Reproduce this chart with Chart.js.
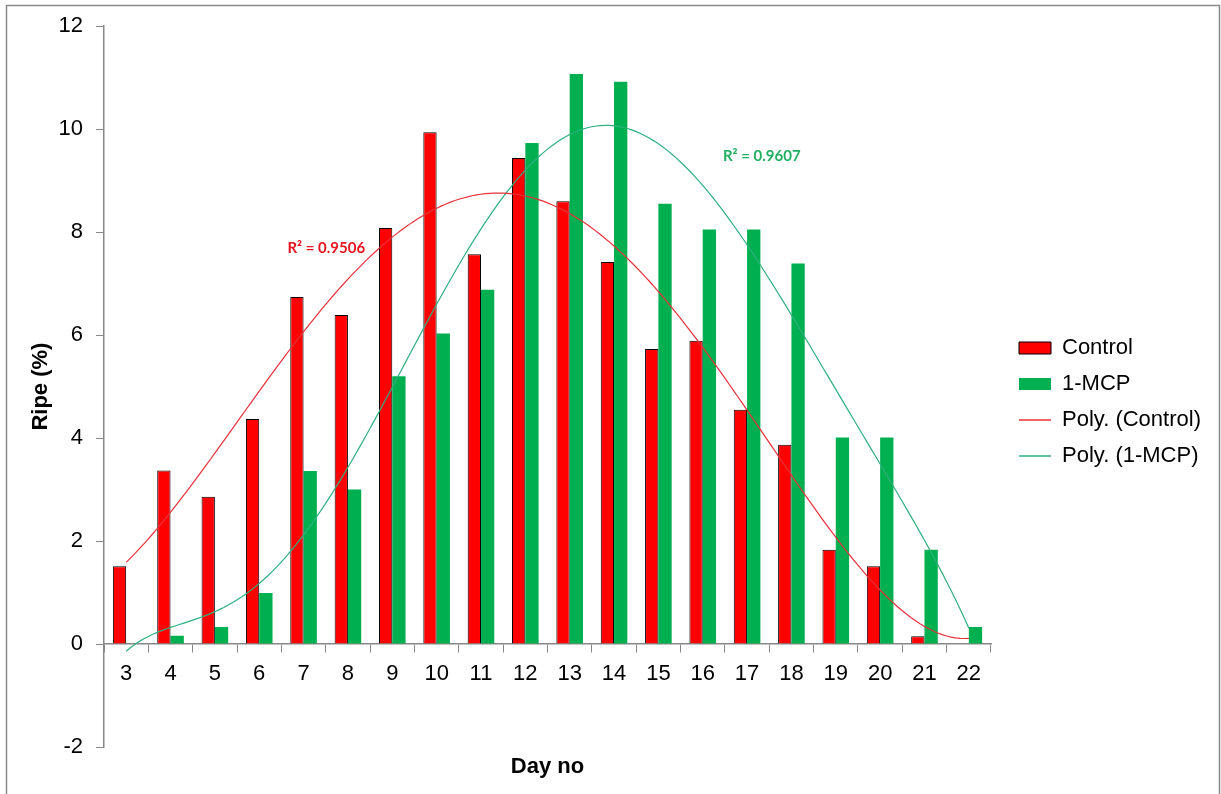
<!DOCTYPE html>
<html>
<head>
<meta charset="utf-8">
<script src="https://cdn.jsdelivr.net/npm/chart.js@4.4.1/dist/chart.umd.min.js"></script>
<style>
  html, body { margin: 0; padding: 0; background: #fff; }
  #wrap { position: relative; width: 1221px; height: 794px; }
</style>
</head>
<body>
<div id="wrap"><canvas id="chart" width="1221" height="794"></canvas></div>
<script>
// data
const days = ['3','4','5','6','7','8','9','10','11','12','13','14','15','16','17','18','19','20','21','22'];
const control = [1.51, 3.37, 2.86, 4.37, 6.74, 6.39, 8.08, 9.94, 7.57, 9.44, 8.60, 7.42, 5.73, 5.89, 4.55, 3.87, 1.83, 1.51, 0.15, 0];
const mcp = [0, 0.16, 0.33, 0.99, 3.36, 3.0, 5.2, 6.03, 6.88, 9.73, 11.07, 10.92, 8.55, 8.05, 8.05, 7.39, 4.01, 4.01, 1.83, 0.33];
const yTicks = [-2, 0, 2, 4, 6, 8, 10, 12];
const r2Labels = ['R\u00B2 = 0.9506', 'R\u00B2 = 0.9607'];

const RED = '#FF0000';
const GREEN = '#00B050';
const RED_LINE = '#E8303A';
const GREEN_LINE = '#2EAF7D';
const FONT = "'Liberation Sans', Arial, sans-serif";

// orders picked so the fits give the R² printed on the chart
const CONTROL_DEG = 4;
const MCP_DEG = 6;

// least squares polynomial trendline, x = 1..n like excel does on a category axis
function polyFit(ys, deg) {
  const n = ys.length, c0 = (n + 1) / 2;
  const xs = ys.map((_, i) => (i + 1 - c0) / 10);
  const m = deg + 1;
  const A = [];
  for (let r = 0; r < m; r++) {
    const row = [];
    for (let c = 0; c < m; c++) row.push(xs.reduce((s, x) => s + Math.pow(x, r + c), 0));
    row.push(xs.reduce((s, x, i) => s + Math.pow(x, r) * ys[i], 0));
    A.push(row);
  }
  for (let k = 0; k < m; k++) {
    let p = k;
    for (let r = k + 1; r < m; r++) if (Math.abs(A[r][k]) > Math.abs(A[p][k])) p = r;
    [A[k], A[p]] = [A[p], A[k]];
    for (let r = 0; r < m; r++) {
      if (r === k) continue;
      const f = A[r][k] / A[k][k];
      for (let c = k; c <= m; c++) A[r][c] -= f * A[k][c];
    }
  }
  const coef = A.map((row, k) => row[m] / row[k]);
  return x => coef.reduce((s, a, k) => s + a * Math.pow((x - c0) / 10, k), 0);
}

// points in category index units (0 = first day), fed unparsed so they can sit between categories
function trend(ys, deg) {
  const f = polyFit(ys, deg);
  const pts = [];
  for (let x = 1; x <= ys.length + 1e-9; x += 0.1) pts.push({ x: x - 1, y: f(x) });
  return pts;
}

const frame = {
  id: 'frame',
  beforeDraw(chart) {
    const ctx = chart.ctx;
    ctx.save();
    ctx.strokeStyle = '#888';
    ctx.lineWidth = 1.5;
    ctx.beginPath();
    ctx.moveTo(6.5, 800); ctx.lineTo(6.5, 5.5); ctx.lineTo(1219.5, 5.5); ctx.lineTo(1219.5, 800);
    ctx.stroke();
    ctx.restore();
  }
};

const r2Text = {
  id: 'r2Text',
  afterDatasetsDraw(chart) {
    const ctx = chart.ctx, xs = chart.scales.x, ys = chart.scales.y;
    const spots = [
      { x: 3.635, y: 7.68, color: '#E8141E' },
      { x: 13.455, y: 9.47, color: '#1FAF62' }
    ];
    ctx.save();
    ctx.font = "bold 15px Lato, 'Open Sans', sans-serif";
    ctx.textAlign = 'left';
    ctx.textBaseline = 'middle';
    spots.forEach((s, i) => {
      ctx.fillStyle = s.color;
      ctx.fillText(r2Labels[i], xs.getPixelForValue(s.x), ys.getPixelForValue(s.y));
    });
    ctx.restore();
  }
};

new Chart(document.getElementById('chart'), {
  type: 'bar',
  data: {
    labels: days,
    datasets: [
      { label: 'Control', data: control, backgroundColor: RED, borderColor: '#000', borderWidth: 1, order: 1 },
      { label: '1-MCP', data: mcp, backgroundColor: GREEN, borderColor: GREEN, borderWidth: 0, order: 1 },
      { type: 'line', label: 'Poly. (Control)', data: trend(control, CONTROL_DEG), parsing: false, borderColor: RED_LINE, backgroundColor: RED_LINE, borderWidth: 1.2, pointRadius: 0, fill: false, order: 0 },
      { type: 'line', label: 'Poly. (1-MCP)', data: trend(mcp, MCP_DEG), parsing: false, borderColor: GREEN_LINE, backgroundColor: GREEN_LINE, borderWidth: 1.2, pointRadius: 0, fill: false, order: 0 }
    ]
  },
  options: {
    responsive: false,
    animation: false,
    layout: { padding: { top: 10, left: 0, right: 15, bottom: 0 } },
    datasets: { bar: { categoryPercentage: 0.6, barPercentage: 1.0 } },
    plugins: {
      tooltip: { enabled: false },
      legend: {
        position: 'right',
        labels: {
          usePointStyle: true,
          pointStyleWidth: 32,
          boxHeight: 12,
          padding: 14,
          color: '#000',
          font: { family: FONT, size: 22 },
          generateLabels(chart) {
            return chart.data.datasets.map((ds, i) => ({
              text: ds.label,
              fillStyle: ds.backgroundColor,
              strokeStyle: ds.borderColor,
              lineWidth: ds.type === 'line' ? 1.5 : ds.borderWidth,
              pointStyle: ds.type === 'line' ? 'line' : 'rect',
              datasetIndex: i,
              hidden: false
            }));
          }
        }
      }
    },
    scales: {
      x: {
        type: 'category',
        position: { y: 0 },
        offset: true,
        grid: { offset: true, drawOnChartArea: false, drawTicks: true, tickLength: 8, color: '#888' },
        border: { color: '#888', width: 1.5 },
        ticks: { color: '#000', font: { family: FONT, size: 22 }, padding: 9, maxRotation: 0, autoSkip: false },
        afterFit(s) { s.height = 0; }
      },
      xb: {
        type: 'category',
        position: 'bottom',
        grid: { display: false, drawTicks: false },
        border: { display: false },
        ticks: { display: false },
        title: { display: true, text: 'Day no', color: '#000', font: { family: FONT, size: 22, weight: 'bold' }, padding: { top: 4, bottom: 14 } },
        afterFit(s) { s.height = 47; }
      },
      xt: {
        type: 'category',
        position: 'top',
        grid: { display: false, drawTicks: false },
        border: { display: false },
        ticks: { display: false },
        afterFit(s) { s.height = 16; }
      },
      y: {
        min: -2,
        max: 12,
        grid: { drawOnChartArea: false, drawTicks: true, tickLength: 8, color: '#888' },
        border: { color: '#888', width: 1.5 },
        ticks: { color: '#000', font: { family: FONT, size: 22 }, padding: 13 },
        afterBuildTicks(s) { s.ticks = yTicks.map(v => ({ value: v })); },
        title: { display: true, text: 'Ripe (%)', color: '#000', font: { family: FONT, size: 22, weight: 'bold' }, padding: { top: 28, bottom: 4 } },
        afterFit(s) { s.width = 104; }
      },
      yr: {
        position: 'right',
        grid: { display: false, drawTicks: false },
        border: { display: false },
        ticks: { display: false },
        afterFit(s) { s.width = 14; }
      }
    }
  },
  plugins: [frame, r2Text]
});
</script>
</body>
</html>
